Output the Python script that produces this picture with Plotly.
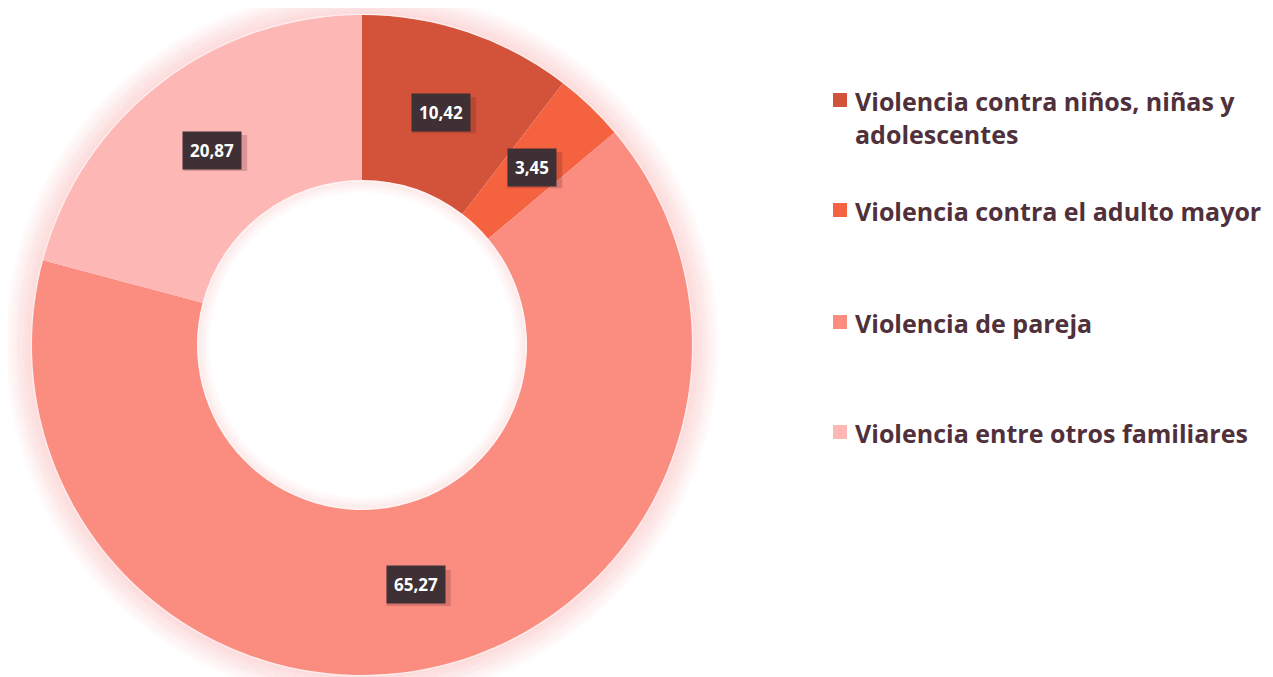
import math
import plotly.graph_objects as go

labels = ["Violencia contra niños, niñas y adolescentes",
          "Violencia contra el adulto mayor",
          "Violencia de pareja",
          "Violencia entre otros familiares"]
legend_text = ["Violencia contra niños, niñas y<br>adolescentes",
               "Violencia contra el adulto mayor",
               "Violencia de pareja",
               "Violencia entre otros familiares"]
values = [10.42, 3.45, 65.27, 20.87]
value_text = ["10,42", "3,45", "65,27", "20,87"]
colors = ["#D2523A", "#F5623F", "#FA8C80", "#FDB8B6"]

W, H = 1273, 677
OFF = 8  # page body margin
cx, cy, R = 362, 345, 330
hole = 0.5


def px(x):
    return (x - OFF) / W


def py(y):
    return 1 - (y - OFF) / H


fig = go.Figure(go.Pie(
    labels=labels, values=values, hole=hole, sort=False,
    direction="clockwise", rotation=0,
    marker=dict(colors=colors, line=dict(width=0)),
    textinfo="none", hoverinfo="label+value", showlegend=False,
    domain=dict(x=[px(cx - R), px(cx + R)], y=[py(cy + R), py(cy - R)]),
))

shapes = []
# soft glow around the ring
for k in range(1, 20):
    r = R + k * 1.4
    a = 0.14 * (1 - k / 20)
    shapes.append(dict(type="circle", xref="paper", yref="paper", layer="below",
                       x0=px(cx - r), x1=px(cx + r), y0=py(cy + r), y1=py(cy - r),
                       line=dict(color=f"rgba(245,120,120,{a:.3f})", width=3)))
ri = R * hole
for k in range(1, 9):
    r = ri - k * 1.5
    a = 0.09 * (1 - k / 9)
    shapes.append(dict(type="circle", xref="paper", yref="paper", layer="above",
                       x0=px(cx - r), x1=px(cx + r), y0=py(cy + r), y1=py(cy - r),
                       line=dict(color=f"rgba(245,120,120,{a:.3f})", width=3)))

annotations = []
total = sum(values)
cum = 0
for v, t in zip(values, value_text):
    mid = (cum + v / 2) / total * 2 * math.pi
    cum += v
    rr = R * 0.745
    lx = cx + rr * math.sin(mid)
    ly = cy - rr * math.cos(mid)
    # drop shadow behind the label box
    bw = len(t) * 9.2 + 18
    bh = 36
    shapes.append(dict(type="rect", xref="paper", yref="paper", layer="above",
                       x0=px(lx - bw / 2 + 3), x1=px(lx + bw / 2 + 3),
                       y0=py(ly + bh / 2 + 3), y1=py(ly - bh / 2 + 3),
                       fillcolor="rgba(90,30,30,0.22)", line=dict(width=0)))
    annotations.append(dict(x=px(lx), y=py(ly), xref="paper", yref="paper",
                            xanchor="center", yanchor="middle",
                            text=f"<b>{t}</b>", showarrow=False,
                            font=dict(family="Open Sans", size=17, color="white"),
                            bgcolor="#3E3034", borderpad=7))

# legend
leg_y = [100, 210, 322, 432]
for txt, col, y in zip(legend_text, colors, leg_y):
    shapes.append(dict(type="rect", xref="paper", yref="paper",
                       x0=px(833), x1=px(847), y0=py(y + 7), y1=py(y - 7),
                       fillcolor=col, line=dict(width=0)))
    annotations.append(dict(x=px(853), y=py(y - 18), xref="paper", yref="paper",
                            xanchor="left", yanchor="top", align="left",
                            text=f"<b>{txt}</b>", showarrow=False,
                            font=dict(family="Open Sans", size=25, color="#50303B")))

fig.update_layout(width=W, height=H, margin=dict(l=0, r=0, t=0, b=0),
                  paper_bgcolor="white", plot_bgcolor="white",
                  shapes=shapes, annotations=annotations)
fig.write_html("out.html")
